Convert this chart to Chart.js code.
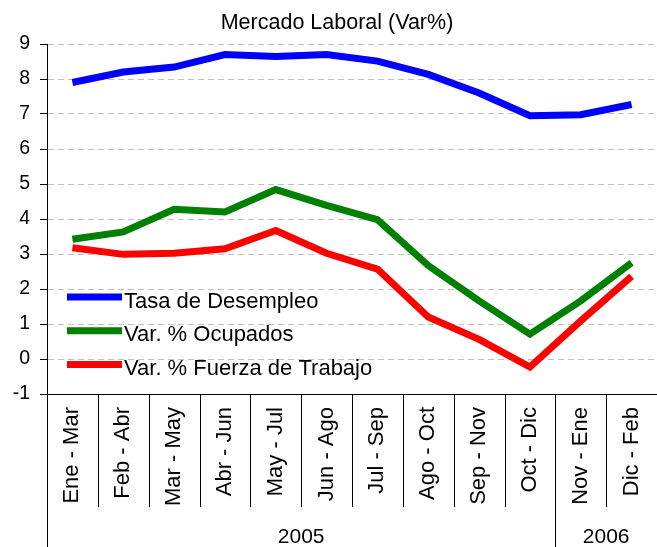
<!DOCTYPE html>
<html lang="es">
<head>
    <meta charset="UTF-8">
    <title>Mercado Laboral (Var%)</title>
    <script src="https://cdn.jsdelivr.net/npm/chart.js"></script>
    <style>
        html, body { margin: 0; padding: 0; background: #ffffff; }
        #wrap { width: 657px; height: 547px; }
    </style>
</head>
<body>
    <div id="wrap"><canvas id="laborChart" width="657" height="547"></canvas></div>

    <script>
        const periodos = ['Ene - Mar', 'Feb - Abr', 'Mar - May', 'Abr - Jun', 'May - Jul', 'Jun - Ago',
                          'Jul - Sep', 'Ago - Oct', 'Sep - Nov', 'Oct - Dic', 'Nov - Ene', 'Dic - Feb'];
        const anios = [{ label: '2005', desde: 0, hasta: 9 }, { label: '2006', desde: 10, hasta: 11 }];

        const tasaDesempleo = [7.9, 8.2, 8.34, 8.7, 8.64, 8.7, 8.51, 8.13, 7.6, 6.95, 6.98, 7.27];
        const varOcupados   = [3.42, 3.63, 4.28, 4.2, 4.84, 4.39, 3.98, 2.67, 1.66, 0.71, 1.66, 2.75];
        const varFuerza     = [3.18, 2.99, 3.02, 3.15, 3.67, 3.02, 2.57, 1.2, 0.56, -0.23, 1.09, 2.36];

        const yMin = -1, yMax = 9;
        const fuente = 'Arial, "Liberation Sans", sans-serif';

        // titulo, leyenda interna y separadores del eje x
        const extras = {
            id: 'extras',
            afterDraw(chart) {
                const ctx = chart.ctx;
                const area = chart.chartArea;
                const x = chart.scales.x;
                ctx.save();

                ctx.fillStyle = '#000';
                ctx.font = '21.5px ' + fuente;
                ctx.textAlign = 'center';
                ctx.textBaseline = 'alphabetic';
                ctx.fillText('Mercado Laboral (Var%)', 337, 29);

                // separadores entre categorias
                const borde = i => i === 0 ? area.left : (x.getPixelForValue(i - 1) + x.getPixelForValue(i)) / 2;
                const cortes = anios.map(a => a.desde);
                ctx.strokeStyle = '#000';
                ctx.lineWidth = 1;
                for (let i = 0; i < periodos.length; i++) {
                    const px = Math.round(borde(i)) + 0.5;
                    ctx.beginPath();
                    ctx.moveTo(px, area.bottom);
                    ctx.lineTo(px, cortes.includes(i) ? chart.height : area.bottom + 113);
                    ctx.stroke();
                }

                ctx.font = '21px ' + fuente;
                anios.forEach(a => {
                    const izq = borde(a.desde);
                    const der = a.hasta + 1 < periodos.length ? borde(a.hasta + 1) : area.right;
                    ctx.fillText(a.label, (izq + der) / 2, 543);
                });

                // leyenda
                ctx.textAlign = 'left';
                ctx.font = '22px ' + fuente;
                chart.data.datasets.forEach((ds, i) => {
                    const y = area.top + 253 + i * 33.7;
                    ctx.strokeStyle = ds.borderColor;
                    ctx.lineWidth = 7;
                    ctx.beginPath();
                    ctx.moveTo(67, y);
                    ctx.lineTo(122, y);
                    ctx.stroke();
                    ctx.fillText(ds.label, 124, y + 10.5);
                });

                ctx.restore();
            }
        };

        const ctx = document.getElementById('laborChart').getContext('2d');
        new Chart(ctx, {
            type: 'line',
            data: {
                labels: periodos,
                datasets: [
                    { label: 'Tasa de Desempleo', data: tasaDesempleo, borderColor: '#0000ff' },
                    { label: 'Var. % Ocupados', data: varOcupados, borderColor: '#008000' },
                    { label: 'Var. % Fuerza de Trabajo', data: varFuerza, borderColor: '#ff0000' }
                ]
            },
            options: {
                responsive: false,
                animation: false,
                datasets: { line: { borderWidth: 7, pointRadius: 0, tension: 0, fill: false } },
                layout: { padding: { top: 44, left: 0, right: -1, bottom: 0 } },
                plugins: { legend: { display: false }, title: { display: false }, tooltip: { enabled: false } },
                scales: {
                    x: {
                        offset: true,
                        afterFit: s => { s.height = 153; s.paddingLeft = 0; s.paddingRight = 0; },
                        grid: { display: false, drawTicks: false },
                        border: { display: true, color: '#000', width: 1 },
                        ticks: { minRotation: 90, maxRotation: 90, padding: 13, color: '#000', font: { family: fuente, size: 22 } }
                    },
                    y: {
                        min: yMin,
                        max: yMax,
                        afterFit: s => { s.width = 47; },
                        grid: {
                            color: c => c.tick && c.tick.value === yMin ? 'rgba(0,0,0,0)' : '#c0c0c0',
                            tickColor: '#000',
                            tickLength: 7,
                            tickBorderDash: []
                        },
                        border: { display: true, color: '#000', width: 1, dash: [6, 4] },
                        ticks: { stepSize: 1, padding: 10, color: '#000', font: { family: fuente, size: 19.5 } }
                    }
                }
            },
            plugins: [extras]
        });
    </script>
</body>
</html>
